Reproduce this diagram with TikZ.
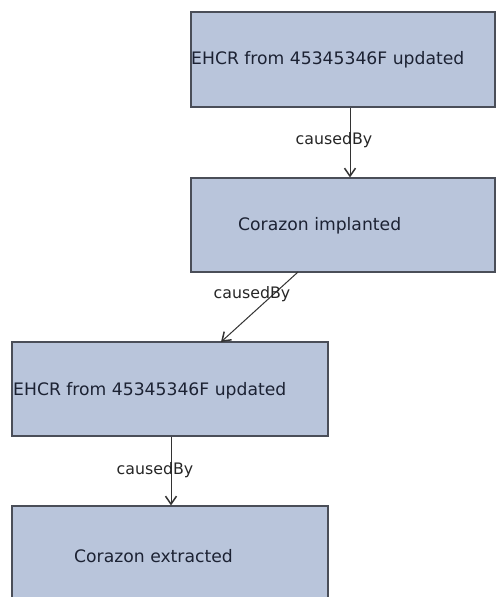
\documentclass[tikz,border=0pt]{standalone}
\usepackage{fontspec}
\setmainfont{DejaVu Sans}
\usetikzlibrary{arrows.meta}
\definecolor{boxfill}{HTML}{B9C5DB}
\definecolor{boxline}{HTML}{4A4E58}
\definecolor{boxtext}{HTML}{1C2233}
\tikzset{
  eventbox/.style={draw=boxline, line width=1.1pt, fill=boxfill, inner sep=0pt},
  boxlabel/.style={anchor=west, inner sep=0pt, text=boxtext, font=\fontsize{17.2}{20}\selectfont},
  edgelabel/.style={inner sep=1pt, text=black!85, font=\fontsize{15.8}{18}\selectfont},
  causal/.style={draw=black!80, line width=1pt, -{Straight Barb[length=8pt,width=11pt,line width=1.5pt]}}
}
\begin{document}
\begin{tikzpicture}[x=1pt,y=-1pt]
  \fill[white] (0,0) rectangle (497,597);
  \useasboundingbox (0,0) rectangle (497,597);
  \clip (0,0) rectangle (497,597);

  % event boxes (the last one runs on past the lower edge)
  \node[eventbox, minimum width=304pt, minimum height=95pt] (e1) at (343,59.5) {};
  \node[eventbox, minimum width=304pt, minimum height=94pt] (e2) at (343,225) {};
  \node[eventbox, minimum width=316pt, minimum height=94pt] (e3) at (170,389) {};
  \node[eventbox, minimum width=316pt, minimum height=130pt] (e4) at (170,571) {};

  % box texts
  \node[boxlabel] (t1) at (191,60) {EHCR from 45345346F updated};
  \node[boxlabel] (t2) at (238,226) {Corazon implanted};
  \node[boxlabel] (t3) at (13,391) {EHCR from 45345346F updated};
  \node[boxlabel] (t4) at (74,556) {Corazon extracted};

  % causal links
  \draw[causal] (e1.south -| 350,0) -- (e2.north -| 350,0);
  \node[edgelabel] (l1) at (334,140) {causedBy};

  \coordinate (s2) at (298,272);
  \coordinate (d2) at (221,342);
  \draw[causal] (s2) -- (d2);
  \node[edgelabel] (l2) at (252,294) {causedBy};

  \draw[causal] (e3.south -| 171,0) -- (e4.north -| 171,0);
  \node[edgelabel] (l3) at (155,470) {causedBy};
\end{tikzpicture}
\end{document}
